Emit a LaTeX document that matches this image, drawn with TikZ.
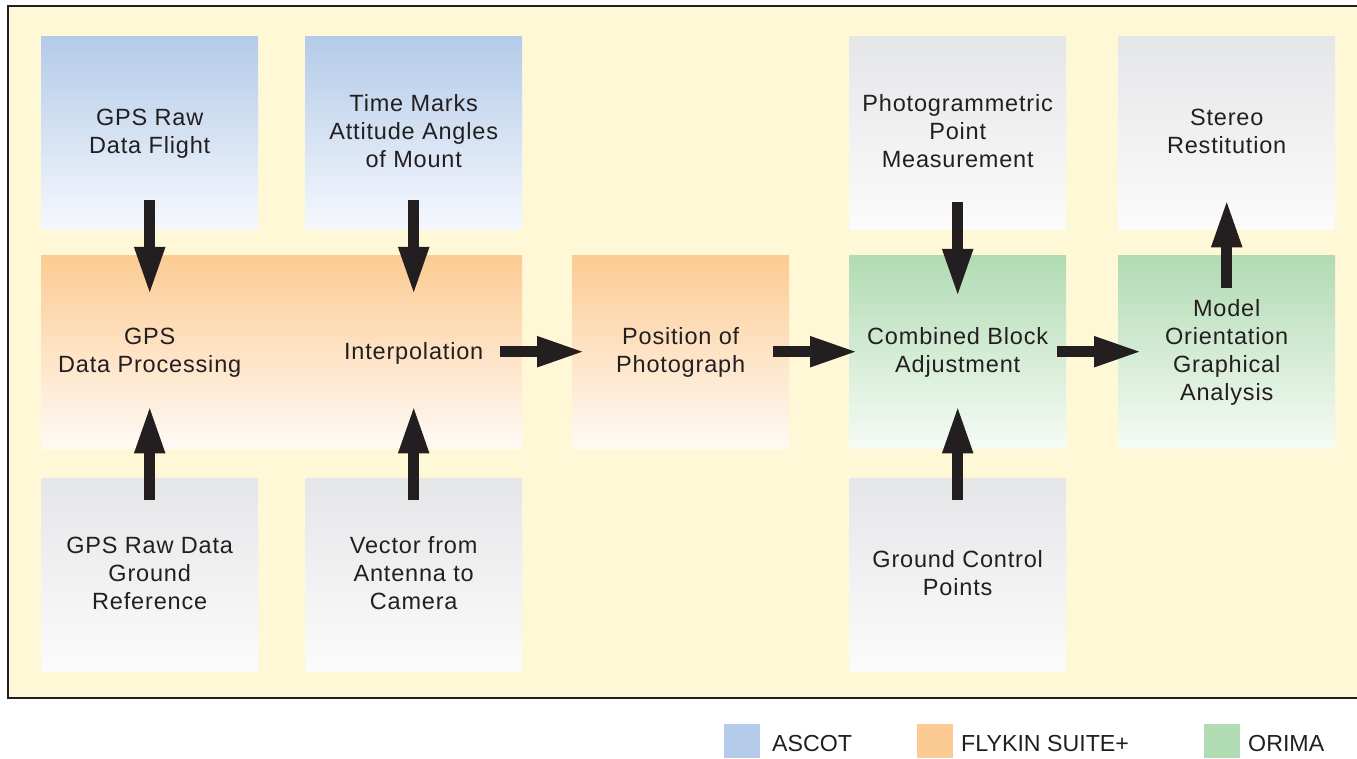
\documentclass[tikz,border=0pt]{standalone}
\usepackage{fontspec}
\setmainfont{Liberation Sans}
\newfontfamily\boxfont[LetterSpace=3.5]{Liberation Sans}
\usetikzlibrary{arrows.meta,calc}
\definecolor{ink}{HTML}{231F20}
\definecolor{bgy}{HTML}{FFF8D6}
\definecolor{bluetop}{HTML}{B3CBE9}
\definecolor{bluebot}{HTML}{F6F8FD}
\definecolor{orgtop}{HTML}{FCCB93}
\definecolor{orgbot}{HTML}{FFFAF5}
\definecolor{grntop}{HTML}{B1DBB2}
\definecolor{grnbot}{HTML}{F6FBF6}
\definecolor{grytop}{HTML}{E5E6E8}
\definecolor{grybot}{HTML}{FBFBFB}
\begin{document}
\begin{tikzpicture}[x=1pt,y=-1pt,
  box/.style={minimum width=217pt, minimum height=193pt, inner sep=0pt, draw=none, anchor=north west},
  bluebox/.style={box, top color=bluetop, bottom color=bluebot},
  orgbox/.style={box, top color=orgtop, bottom color=orgbot},
  grnbox/.style={box, top color=grntop, bottom color=grnbot},
  grybox/.style={box, top color=grytop, bottom color=grybot},
  txt/.style={font=\boxfont\fontsize{23.5}{28}\selectfont, text=ink, align=center, inner sep=0pt, yshift=-2.5pt,
    execute at begin node=\strut, execute at end node=\strut},
  arr/.style={-{Triangle[width=28pt,length=48pt]}, line width=10.5pt, draw=ink},
  legsq/.style={minimum width=36pt, minimum height=34pt, inner sep=0pt, draw=none, anchor=north west},
  legtxt/.style={font=\fontsize{23.2}{27}\selectfont, text=ink, inner sep=0pt, anchor=base west},
]
\useasboundingbox (0,0) rectangle (1357,759);
\begin{scope}
\clip (0,0) rectangle (1357,759);
\draw[line width=2.5pt, draw=ink, fill=bgy] (8,6) rectangle (1370,698);
\end{scope}

% top row
\node[bluebox] (b1) at (41,36) {};
\node[bluebox] (b2) at (305,36) {};
\node[grybox] (p1) at (849,36) {};
\node[grybox] (s1) at (1118,36) {};
% middle row
\node[orgbox, minimum width=481pt] (fly) at (41,255) {};
\node[orgbox] (pos) at (572,255) {};
\node[grnbox] (comb) at (849,255) {};
\node[grnbox] (model) at (1118,255) {};
% bottom row
\node[grybox] (g1) at (41,478) {};
\node[grybox] (g2) at (305,478) {};
\node[grybox] (g3) at (849,478) {};

% texts
\node[txt] (tb1) at (b1.center) {GPS Raw\\Data Flight};
\node[txt] (tb2) at (b2.center) {Time Marks\\Attitude Angles\\of Mount};
\node[txt] (tp1) at (p1.center) {Photogrammetric\\Point\\Measurement};
\node[txt] (ts1) at (s1.center) {Stereo\\Restitution};
\node[txt] (tgps) at (b1.center |- fly.center) {GPS\\Data Processing};
\node[txt] (tint) at (b2.center |- fly.center) {Interpolation};
\node[txt] (tpos) at (pos.center) {Position of\\Photograph};
\node[txt] (tcomb) at (comb.center) {Combined Block\\Adjustment};
\node[txt] (tmodel) at (model.center) {Model\\Orientation\\Graphical\\Analysis};
\node[txt] (tg1) at (g1.center) {GPS Raw Data\\Ground\\Reference};
\node[txt] (tg2) at (g2.center) {Vector from\\Antenna to\\Camera};
\node[txt] (tg3) at (g3.center) {Ground Control\\Points};

% arrows
\draw[arr] ($(b1.south)+(0,-29)$) -- ($(b1.south |- fly.north)+(0,40)$);
\draw[arr] ($(b2.south)+(0,-29)$) -- ($(b2.south |- fly.north)+(0,40)$);
\draw[arr] ($(g1.north)+(0,22)$) -- ($(g1.north |- fly.south)+(0,-43)$);
\draw[arr] ($(g2.north)+(0,22)$) -- ($(g2.north |- fly.south)+(0,-43)$);
\draw[arr] ($(p1.south)+(0,-27)$) -- ($(p1.south |- comb.north)+(0,42)$);
\draw[arr] ($(g3.north)+(0,22)$) -- ($(comb.south)+(0,-43)$);
\draw[arr] ($(model.north)+(0,33)$) -- ($(s1.south)+(0,-30)$);
\draw[arr] ($(fly.east)+(-22,0)$) -- ($(pos.west)+(13,0)$);
\draw[arr] ($(pos.east)+(-16,0)$) -- ($(comb.west)+(9,0)$);
\draw[arr] ($(comb.east)+(-9,0)$) -- ($(model.west)+(24,0)$);

% legend
\node[legsq, fill=bluetop] (l1) at (724,724) {};
\node[legtxt] (lt1) at (772,751) {ASCOT};
\node[legsq, fill=orgtop] (l2) at (917,724) {};
\node[legtxt] (lt2) at (961,751) {FLYKIN SUITE+};
\node[legsq, fill=grntop] (l3) at (1204,724) {};
\node[legtxt] (lt3) at (1248,751) {ORIMA};
\end{tikzpicture}
\end{document}
